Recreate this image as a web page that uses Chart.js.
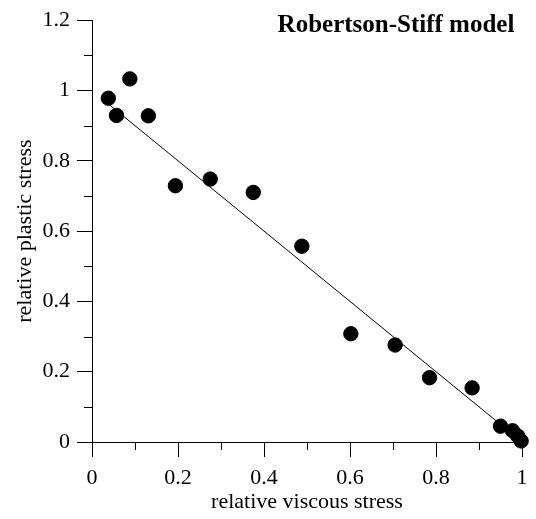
<!DOCTYPE html>
<html>
<head>
<meta charset="utf-8">
<script src="https://cdn.jsdelivr.net/npm/chart.js@4"></script>
<style>
  body { margin: 0; background: #fff; }
  #wrap { width: 536px; height: 519px; }
</style>
</head>
<body>
<div id="wrap"><canvas id="chart" width="536" height="519"></canvas></div>
<script>
// measured points: relative viscous stress vs relative plastic stress
var viscous = [0.038, 0.057, 0.088, 0.131, 0.194, 0.275, 0.375, 0.488, 0.602, 0.705, 0.785, 0.884, 0.950, 0.978, 0.990, 0.998];
var plastic = [0.978, 0.929, 1.033, 0.928, 0.729, 0.748, 0.710, 0.557, 0.308, 0.276, 0.183, 0.154, 0.045, 0.032, 0.017, 0.003];

// fitted line end points
var fitX = [0.038, 1.0];
var fitY = [0.962, 0.0];

var xMinor = [0.1, 0.3, 0.5, 0.7, 0.9];
var yMinor = [0.1, 0.3, 0.5, 0.7, 0.9, 1.1];

var titleText = 'Robertson-Stiff model';
var serif = '"Liberation Serif", "Times New Roman", serif';

function pairs(xs, ys) {
  return xs.map(function(x, i) { return { x: x, y: ys[i] }; });
}

// short minor ticks between the labelled ones, plus the corner title
var minorTicks = {
  id: 'minorTicks',
  afterDraw: function(chart) {
    var ctx = chart.ctx;
    var xs = chart.scales.x, ys = chart.scales.y;
    var a = chart.chartArea;
    ctx.save();
    ctx.strokeStyle = '#000';
    ctx.lineWidth = 1;
    ctx.beginPath();
    xMinor.forEach(function(v) {
      var px = Math.round(xs.getPixelForValue(v)) + 0.5;
      ctx.moveTo(px, a.bottom);
      ctx.lineTo(px, a.bottom + 8);
    });
    yMinor.forEach(function(v) {
      var py = Math.round(ys.getPixelForValue(v)) + 0.5;
      ctx.moveTo(a.left, py);
      ctx.lineTo(a.left - 8, py);
    });
    ctx.stroke();

    ctx.fillStyle = '#000';
    ctx.font = 'bold 25px ' + serif;
    ctx.textAlign = 'center';
    ctx.textBaseline = 'alphabetic';
    ctx.fillText(titleText, 396, 32);
    ctx.restore();
  }
};

function tickLabel(v) {
  return parseFloat(v.toFixed(1)).toString();
}

var ctx = document.getElementById('chart').getContext('2d');
var chart = new Chart(ctx, {
  type: 'scatter',
  data: {
    datasets: [
      {
        data: pairs(viscous, plastic),
        backgroundColor: '#000',
        borderColor: '#000',
        pointRadius: 7.2,
        pointHoverRadius: 7.2,
        clip: false
      },
      {
        type: 'line',
        data: pairs(fitX, fitY),
        borderColor: '#000',
        borderWidth: 1,
        pointRadius: 0,
        fill: false,
        clip: false
      }
    ]
  },
  options: {
    responsive: false,
    animation: false,
    layout: { padding: { top: 13, right: 14, left: 0, bottom: 0 } },
    plugins: {
      legend: { display: false },
      tooltip: { enabled: false }
    },
    scales: {
      x: {
        type: 'linear',
        min: 0,
        max: 1,
        afterFit: function(s) { s.height = 77; },
        ticks: {
          stepSize: 0.2,
          padding: 8,
          color: '#000',
          font: { family: serif, size: 22 },
          callback: tickLabel,
          maxRotation: 0
        },
        grid: { drawOnChartArea: false, drawTicks: true, tickLength: 15, tickColor: '#000' },
        border: { display: true, color: '#000', width: 1 },
        title: {
          display: true,
          text: 'relative viscous stress',
          color: '#000',
          font: { family: serif, size: 22 },
          padding: { top: 0, bottom: 4 }
        }
      },
      y: {
        type: 'linear',
        min: 0,
        max: 1.2,
        afterFit: function(s) { s.width = 92; },
        ticks: {
          stepSize: 0.2,
          padding: 7,
          color: '#000',
          font: { family: serif, size: 22 },
          callback: tickLabel
        },
        grid: { drawOnChartArea: false, drawTicks: true, tickLength: 15, tickColor: '#000' },
        border: { display: true, color: '#000', width: 1 },
        title: {
          display: true,
          text: 'relative plastic stress',
          color: '#000',
          font: { family: serif, size: 22 },
          padding: { top: 12, bottom: 0 }
        }
      }
    }
  },
  plugins: [minorTicks]
});
</script>
</body>
</html>
